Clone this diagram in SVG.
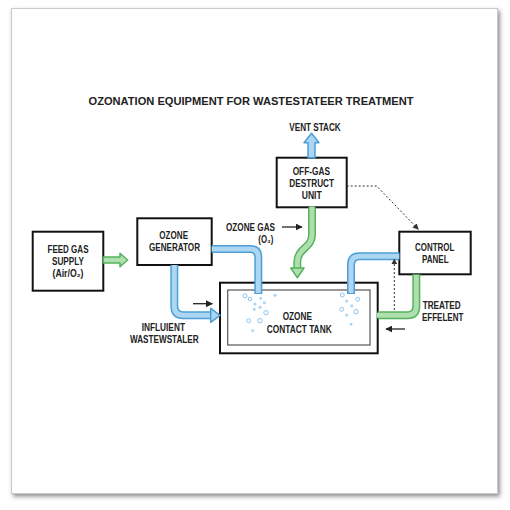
<svg xmlns="http://www.w3.org/2000/svg" width="510" height="510" viewBox="0 0 510 510">
<defs>
<filter id="sh" x="-5%" y="-5%" width="112%" height="112%">
<feDropShadow dx="2" dy="2.5" stdDeviation="2" flood-color="#444" flood-opacity="0.6"/>
</filter>
<marker id="ah" viewBox="0 0 10 10" refX="9" refY="5" markerWidth="7" markerHeight="7" orient="auto" markerUnits="userSpaceOnUse">
<path d="M0,0 L10,5 L0,10 z" fill="#222"/>
</marker>
<marker id="dh" viewBox="0 0 10 10" refX="9" refY="5" markerWidth="6" markerHeight="6" orient="auto" markerUnits="userSpaceOnUse">
<path d="M0,0 L10,5 L0,10 z" fill="#333"/>
</marker>
</defs>
<style>
text{font-family:"Liberation Sans",Arial,"DejaVu Sans",sans-serif;font-weight:bold;fill:#222;font-size:10.5px;}
.t{text-anchor:middle;}
.box{fill:#fff;stroke:#111;stroke-width:2;}
.bo{fill:none;stroke:#4b9fd6;stroke-width:8;}
.bi{fill:none;stroke:#acd6f2;stroke-width:5;}
.go{fill:none;stroke:#52b35a;stroke-width:8;}
.gi{fill:none;stroke:#afdfb0;stroke-width:5;}
.bh{fill:#acd6f2;stroke:#4b9fd6;stroke-width:1.5;stroke-linejoin:round;}
.gh{fill:#afdfb0;stroke:#52b35a;stroke-width:1.5;stroke-linejoin:round;}
.ar{stroke:#222;stroke-width:1.3;fill:none;}
.dot{stroke:#333;stroke-width:1;fill:none;stroke-dasharray:2 2;}
.bub{fill:none;stroke:#8cc5ec;stroke-width:1;}
.bf{fill:#a8d4f2;stroke:none;}
</style>
<rect x="0" y="0" width="510" height="510" fill="#fff"/>
<rect x="11.5" y="8.5" width="486" height="485" fill="#fff" stroke="#c9c9c9" stroke-width="1" filter="url(#sh)"/>

<text class="t" x="251" y="105" font-size="13.5" textLength="325" lengthAdjust="spacingAndGlyphs">OZONATION EQUIPMENT FOR WASTESTATEER TREATMENT</text>

<g id="feed-gas-supply">
<rect class="box" x="32.7" y="231.7" width="70.6" height="59"/>
<text class="t" x="68" y="253" textLength="41" lengthAdjust="spacingAndGlyphs">FEED GAS</text>
<text class="t" x="68" y="265" textLength="32" lengthAdjust="spacingAndGlyphs">SUPPLY</text>
<text class="t" x="68" y="277" textLength="31" lengthAdjust="spacingAndGlyphs">(Air/O₂)</text>
</g>

<g id="ozone-generator">
<rect class="box" x="137.3" y="218.3" width="74.4" height="46.7"/>
<text class="t" x="173.7" y="239" textLength="28.7" lengthAdjust="spacingAndGlyphs">OZONE</text>
<text class="t" x="174.5" y="251" textLength="51" lengthAdjust="spacingAndGlyphs">GENERATOR</text>
</g>

<g id="off-gas-destruct-unit">
<rect class="box" x="276.7" y="157.7" width="70" height="49.6"/>
<text class="t" x="311.3" y="174.5" textLength="37.3" lengthAdjust="spacingAndGlyphs">OFF-GAS</text>
<text class="t" x="311.7" y="186.5" textLength="44.7" lengthAdjust="spacingAndGlyphs">DESTRUCT</text>
<text class="t" x="311.7" y="199" textLength="20" lengthAdjust="spacingAndGlyphs">UNIT</text>
</g>

<g id="control-panel">
<rect class="box" x="399.3" y="231.7" width="71.4" height="42.6"/>
<text class="t" x="434.7" y="251" textLength="39.3" lengthAdjust="spacingAndGlyphs">CONTROL</text>
<text class="t" x="435.3" y="263" textLength="26.7" lengthAdjust="spacingAndGlyphs">PANEL</text>
</g>

<g id="ozone-contact-tank">
<rect class="box" x="220" y="282.7" width="157.7" height="70.6"/>
<rect x="227.7" y="290" width="142.3" height="55" fill="none" stroke="#555" stroke-width="1.2"/>
<text class="t" x="297.3" y="320" textLength="29.3" lengthAdjust="spacingAndGlyphs">OZONE</text>
<text class="t" x="299.2" y="332.7" textLength="65" lengthAdjust="spacingAndGlyphs">CONTACT TANK</text>
<g id="bubbles">
<circle class="bub" cx="245" cy="295.7" r="2"/>
<circle class="bub" cx="250" cy="299" r="1.7"/>
<circle class="bf" cx="255" cy="304" r="1.5"/>
<circle class="bf" cx="260.7" cy="298.3" r="1.4"/>
<circle class="bf" cx="264.3" cy="302.7" r="1.5"/>
<circle class="bf" cx="254.3" cy="309.3" r="1.5"/>
<circle class="bf" cx="260" cy="307.3" r="1.5"/>
<circle class="bub" cx="266" cy="312.7" r="2.2"/>
<circle class="bub" cx="248.7" cy="320.7" r="2"/>
<circle class="bub" cx="260" cy="320.7" r="2.2"/>
<circle class="bf" cx="252.7" cy="330.7" r="1.4"/>
<circle class="bf" cx="275" cy="295.3" r="1.5"/>
<circle class="bub" cx="342.3" cy="295" r="2"/>
<circle class="bf" cx="346.7" cy="301" r="1.5"/>
<circle class="bub" cx="357.7" cy="299.3" r="2"/>
<circle class="bf" cx="351.7" cy="305.7" r="1.5"/>
<circle class="bub" cx="341.7" cy="309.3" r="2"/>
<circle class="bub" cx="356" cy="311.7" r="2.2"/>
<circle class="bf" cx="346.7" cy="315" r="1.5"/>
<circle class="bf" cx="351" cy="324.3" r="1.4"/>
</g>
</g>

<g id="connectors">
<path class="gh" d="M103.3,257 H120 V253.3 L127.7,260 L120,266.7 V263 H103.3 z"/>
<path class="bo" d="M211.7,249 H250 Q258.3,249 258.3,257.3 V294"/>
<path class="bi" d="M211.7,249 H250 Q258.3,249 258.3,257.3 V293"/>
<path class="bo" d="M174.3,265 V306 Q174.3,315.3 183.6,315.3 H211"/>
<path class="bi" d="M174.3,265 V306 Q174.3,315.3 183.6,315.3 H212"/>
<path class="bh" d="M210.7,308.3 L220,315.3 L210.7,322.3 z"/>
<path class="bh" d="M308,157.7 V142.7 H304 L311.5,133.3 L319,142.7 H315 V157.7 z"/>
<path class="go" d="M312,207.3 V235 C312,248 297.3,248 297.3,262 V269"/>
<path class="gi" d="M312,206.5 V235 C312,248 297.3,248 297.3,262 V270"/>
<path class="gh" d="M290.7,268 L304,268 L297.3,277.7 z"/>
<path class="bo" d="M399.3,256.3 H359.5 Q351,256.3 351,264.8 V294"/>
<path class="bi" d="M399.3,256.3 H359.5 Q351,256.3 351,264.8 V293"/>
<path class="go" d="M416.3,274.3 V306.3 Q416.3,315.3 407.3,315.3 H377.7"/>
<path class="gi" d="M416.3,275 V306.3 Q416.3,315.3 407.3,315.3 H377"/>
<path class="dot" d="M346.7,186 H376.7 L418.3,229.3" marker-end="url(#dh)"/>
<path class="dot" d="M394.3,310 V259" marker-end="url(#dh)"/>
<path class="ar" d="M193,303.7 H212.3" marker-end="url(#ah)"/>
<path class="ar" d="M282,227 H302" marker-end="url(#ah)"/>
<path class="ar" d="M405,329 H386" marker-end="url(#ah)"/>
</g>

<g id="labels">
<text class="t" x="315" y="131" textLength="51.3" lengthAdjust="spacingAndGlyphs">VENT STACK</text>
<text class="t" x="250.5" y="231" textLength="49" lengthAdjust="spacingAndGlyphs">OZONE GAS</text>
<text class="t" x="265.8" y="243" textLength="15" lengthAdjust="spacingAndGlyphs">(O₃)</text>
<text class="t" x="163.3" y="331" textLength="43.3" lengthAdjust="spacingAndGlyphs">INFLUIENT</text>
<text class="t" x="164.3" y="343" textLength="68.7" lengthAdjust="spacingAndGlyphs">WASTEWSTALER</text>
<text x="422.7" y="309" textLength="38" lengthAdjust="spacingAndGlyphs">TREATED</text>
<text x="422" y="321" textLength="41.3" lengthAdjust="spacingAndGlyphs">EFFELENT</text>
</g>
</svg>
